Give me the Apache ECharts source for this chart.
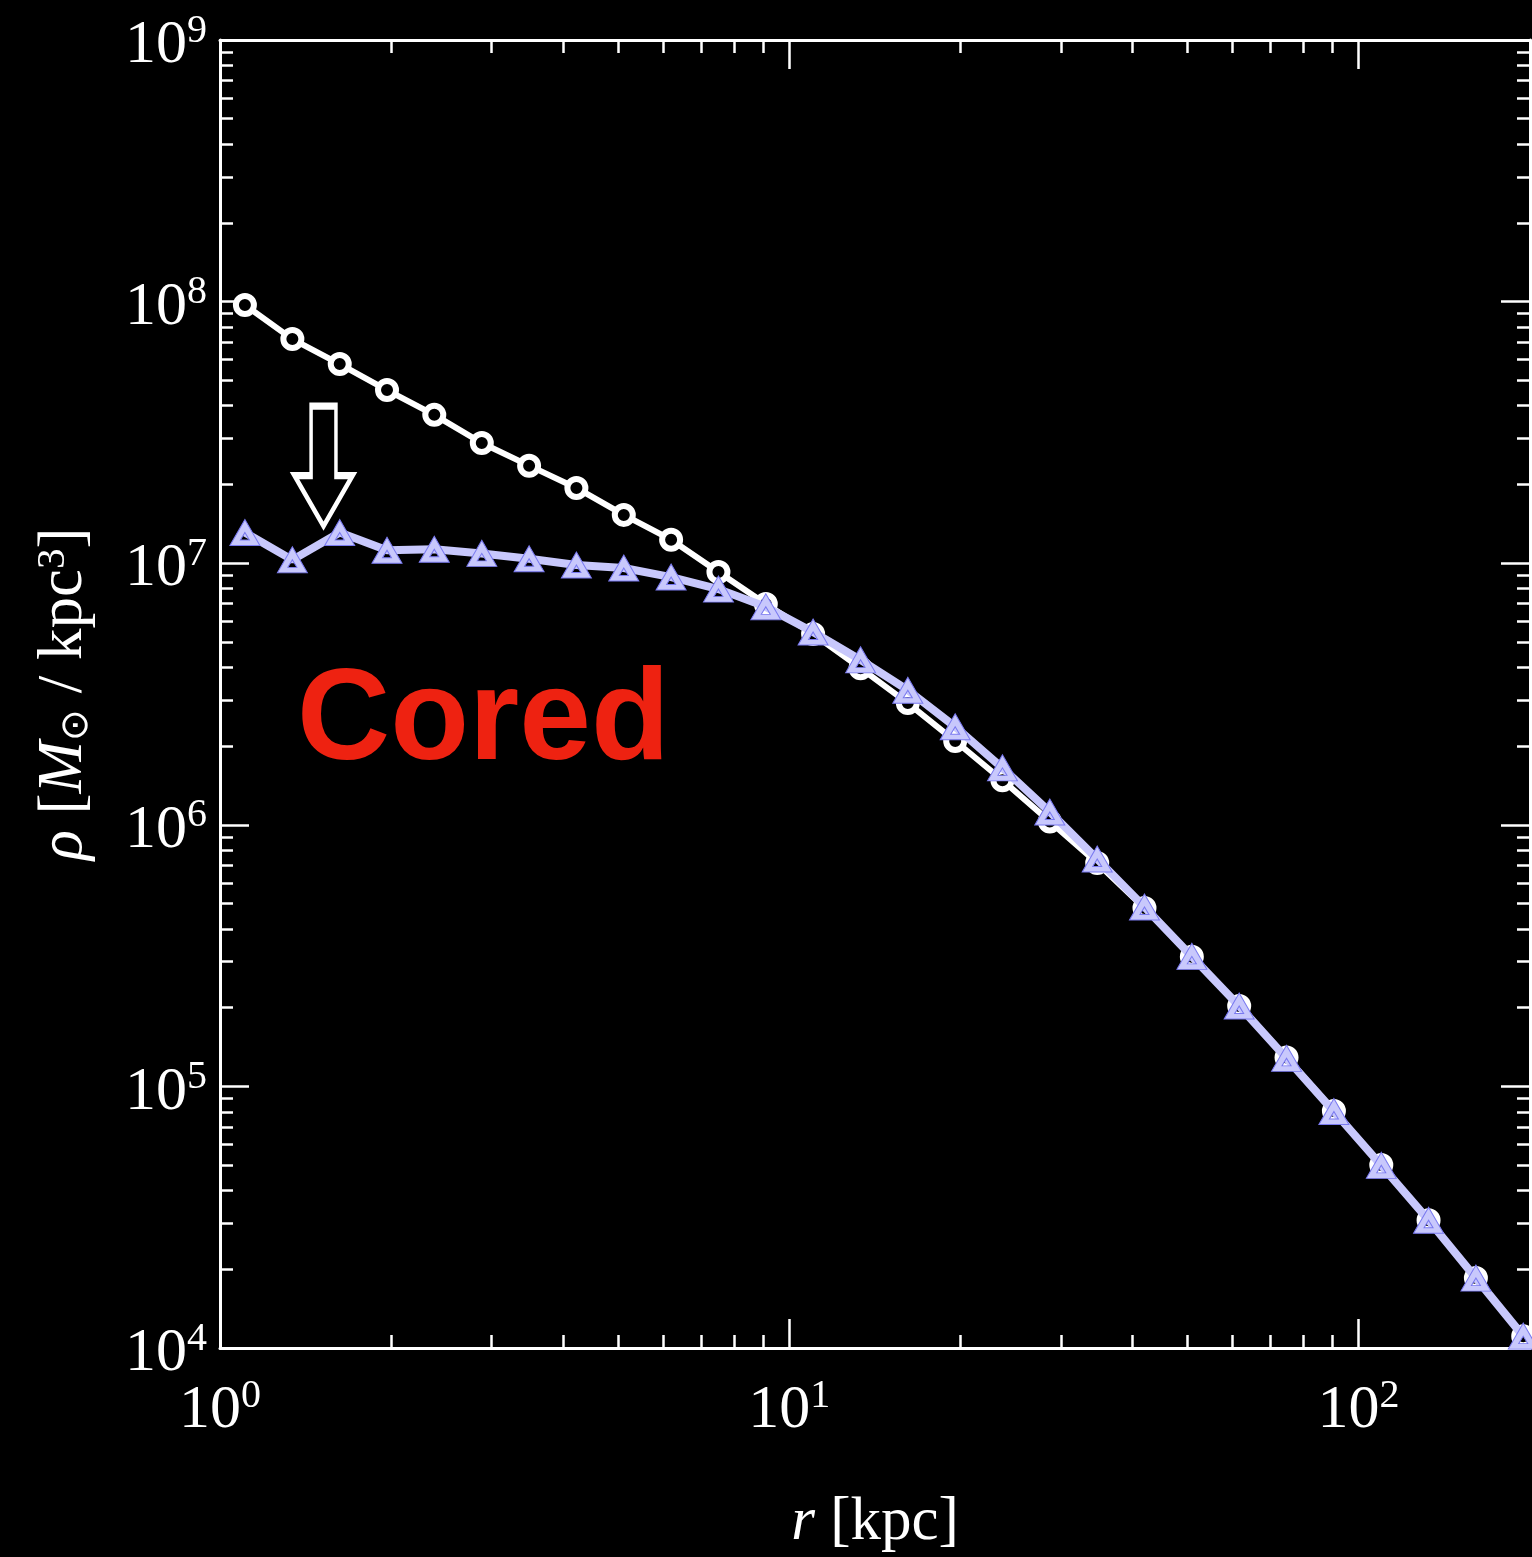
<!DOCTYPE html>
<html>
<head>
<meta charset="utf-8">
<title>Density profile - cored</title>
<script src="https://cdn.jsdelivr.net/npm/echarts@6/dist/echarts.min.js"></script>
<style>
    html, body { margin: 0; padding: 0; background: #000; }
    #chart { width: 1532px; height: 1557px; }
</style>
</head>
<body>
<div id="chart"></div>
<script>
    // radius of each shell [kpc]
    var radius = [1.106, 1.340, 1.623, 1.965, 2.379, 2.883, 3.491, 4.227, 5.120, 6.200,
        7.508, 9.093, 11.01, 13.34, 16.15, 19.56, 23.68, 28.68, 34.74, 42.06,
        50.94, 61.69, 74.71, 90.49, 109.6, 132.7, 160.7, 194.6]
    // initial (cuspy) profile, open circles
    var rhoCusp = [9.70e7, 7.19e7, 5.77e7, 4.59e7, 3.69e7, 2.88e7, 2.36e7, 1.94e7, 1.53e7, 1.23e7,
        9.25e6, 6.98e6, 5.36e6, 3.97e6, 2.92e6, 2.09e6, 1.48e6, 1.03e6, 7.14e5, 4.81e5,
        3.13e5, 2.03e5, 1.29e5, 8.05e4, 5.01e4, 3.08e4, 1.85e4, 1.11e4]
    // cored profile, triangles
    var rhoCore = [1.31e7, 1.03e7, 1.31e7, 1.12e7, 1.13e7, 1.09e7, 1.04e7, 9.84e6, 9.59e6, 8.85e6,
        7.96e6, 6.81e6, 5.46e6, 4.27e6, 3.27e6, 2.37e6, 1.65e6, 1.12e6, 7.40e5, 4.85e5,
        3.14e5, 2.03e5, 1.28e5, 8.02e4, 4.99e4, 3.08e4, 1.85e4, 1.11e4]

    var xMajor = [1, 10, 100]
    var xMinor = [2, 3, 4, 5, 6, 7, 8, 9, 20, 30, 40, 50, 60, 70, 80, 90, 200]
    var yMajor = [1e4, 1e5, 1e6, 1e7, 1e8, 1e9]
    var arrowAt = [1.52, 2.35e7]

    var yMinor = []
    yMajor.slice(0, -1).forEach(function (d) {
        for (var k = 2; k <= 9; k++) yMinor.push(k * d)
    })

    var serif = '"Liberation Serif", "DejaVu Serif", serif'
    var powRich = {
        b: { fontSize: 62, lineHeight: 70, fontFamily: serif, color: '#fff' },
        s: { fontSize: 40, lineHeight: 40, fontFamily: serif, color: '#fff', verticalAlign: 'top' }
    }
    function powLabel (v) {
        return '{b|10}{s|' + Math.round(Math.log10(v)) + '}'
    }

    function tickAxis (pos, ticks, len, extra) {
        var ax = {
            type: 'log',
            position: pos,
            axisLine: { show: false },
            axisTick: { show: true, inside: true, length: len, customValues: ticks,
                lineStyle: { color: '#fff', width: 2.5 } },
            axisLabel: { show: false },
            splitLine: { show: false },
            minorTick: { show: false },
            silent: true
        }
        return Object.assign(ax, extra)
    }

    var xRange = { min: 1, max: 200 }
    var yRange = { min: 1e4, max: 1e9 }

    var chart = echarts.init(document.getElementById('chart'), null, { renderer: 'canvas' })
    chart.setOption({
        backgroundColor: '#000',
        animation: false,
        grid: { left: 220, top: 40, right: 2, bottom: 209, containLabel: false, outerBoundsMode: 'none' },
        xAxis: [
            tickAxis('bottom', xMajor, 29, Object.assign({
                axisLine: { show: true, lineStyle: { color: '#fff', width: 3 } },
                axisLabel: { show: true, customValues: xMajor, formatter: powLabel, margin: 16,
                    padding: [12, 0, 0, 0], rich: powRich },
                name: '{i|r} [kpc]',
                nameLocation: 'middle',
                nameGap: 144,
                nameTextStyle: { color: '#fff', fontSize: 61, fontFamily: serif,
                    rich: { i: { fontStyle: 'italic', fontSize: 61, fontFamily: serif, color: '#fff' } } }
            }, xRange)),
            tickAxis('bottom', xMinor, 13, xRange),
            tickAxis('top', xMajor, 29, Object.assign({
                axisLine: { show: true, lineStyle: { color: '#fff', width: 3 } }
            }, xRange)),
            tickAxis('top', xMinor, 13, xRange)
        ],
        yAxis: [
            tickAxis('left', yMajor, 29, Object.assign({
                axisLine: { show: true, lineStyle: { color: '#fff', width: 3 } },
                axisLabel: { show: true, customValues: yMajor, formatter: powLabel, margin: 13,
                    padding: [12, 0, 0, 0], rich: powRich },
                name: '{i|ρ} [{i|M}{sub|⊙} / kpc{sup|3}]',
                nameLocation: 'middle',
                nameGap: 124,
                nameTextStyle: { color: '#fff', fontSize: 63, fontFamily: serif,
                    rich: {
                        i: { fontStyle: 'italic', fontSize: 63, fontFamily: serif, color: '#fff' },
                        sub: { fontSize: 38, fontFamily: '"DejaVu Sans", sans-serif', color: '#fff', verticalAlign: 'bottom' },
                        sup: { fontSize: 41, fontFamily: serif, color: '#fff', verticalAlign: 'top' }
                    } }
            }, yRange)),
            tickAxis('left', yMinor, 13, yRange),
            tickAxis('right', yMajor, 29, Object.assign({
                axisLine: { show: true, lineStyle: { color: '#fff', width: 3 } }
            }, yRange)),
            tickAxis('right', yMinor, 13, yRange)
        ],
        graphic: [{
            type: 'text',
            left: 297,
            top: 659,
            silent: true,
            style: {
                text: 'Cored',
                font: 'bold 129px "Liberation Sans", Arial, sans-serif',
                fill: '#ee2211'
            }
        }],
        series: [
            {
                name: 'cusp',
                type: 'line',
                xAxisIndex: 0,
                yAxisIndex: 0,
                data: radius.map(function (r, i) { return [r, rhoCusp[i]] }),
                symbol: 'circle',
                symbolSize: 18,
                lineStyle: { color: '#fff', width: 6 },
                itemStyle: { color: '#000', borderColor: '#fff', borderWidth: 6 },
                emphasis: { disabled: true },
                z: 3
            },
            {
                name: 'core',
                type: 'line',
                xAxisIndex: 0,
                yAxisIndex: 0,
                data: radius.map(function (r, i) { return [r, rhoCore[i]] }),
                symbol: 'path://M0,26L15,0L30,26Z M10.5,20.5L19.5,20.5L15,13Z',
                symbolSize: [30, 26],
                lineStyle: { color: '#c8c8fc', width: 8 },
                itemStyle: { color: '#c8c8fc', borderColor: '#7a7af0', borderWidth: 1 },
                emphasis: { disabled: true },
                z: 4,
                markPoint: {
                    silent: true,
                    symbol: 'path://M18,0L45,0L45,73L63,73L31.5,126L0,73L18,73Z',
                    symbolSize: [58, 120],
                    itemStyle: { color: '#000', borderColor: '#fff', borderWidth: 5 },
                    label: { show: false },
                    data: [{ coord: arrowAt }]
                }
            }
        ]
    })
</script>
</body>
</html>
